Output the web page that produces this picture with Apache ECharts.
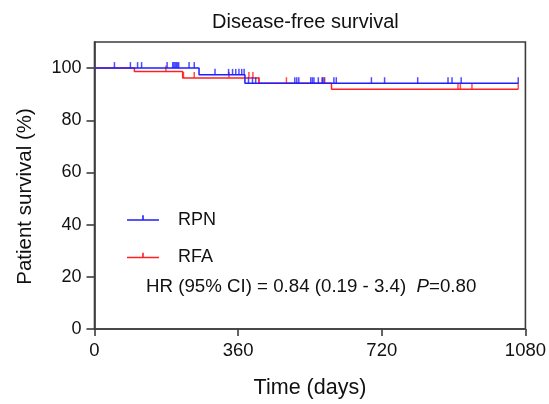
<!DOCTYPE html>
<html><head><meta charset="utf-8">
<script src="https://cdn.jsdelivr.net/npm/echarts@6/dist/echarts.min.js"></script>
<style>html,body{margin:0;padding:0;background:#fff}#c{width:549px;height:404px}</style>
</head><body><div id="c"></div>
<script>
// ---- data ----
const xTicks = [0, 360, 720, 1080];
const yTicks = [0, 20, 40, 60, 80, 100];
// Kaplan-Meier steps: time (days) and survival (%) from that time on
const rpnTimes = [0, 262, 377, 1062];
const rpnSurv  = [100, 97.4, 94.2, 94.2];
const rpnCensor = [50, 90, 108, 118, 182, 196, 199, 202, 205, 208, 211, 237, 250,
  302, 336, 346, 354, 362, 369, 375,
  386, 396, 404, 502, 507, 512, 542, 546, 550, 561, 571, 575, 600, 606, 694, 727,
  810, 886, 896, 919, 1062];
const rfaTimes = [0, 100, 221, 412, 594, 1062];
const rfaSurv  = [100, 98.7, 96.2, 94.2, 91.9, 91.9];
const rfaCensor = [179, 223, 250, 337, 387, 397, 412, 481, 571, 577, 911, 917, 946, 1062];
const seriesNames = ['RPN', 'RFA'];
const titleText = 'Disease-free survival';
const xName = 'Time (days)';
const yName = 'Patient survival (%)';
const statsText = 'HR (95% CI) = 0.84 (0.19 - 3.4)  {i|P}=0.80';

// ---- helpers ----
function stepData(times, surv) { return times.map((t, i) => [t, surv[i]]); }
function survAt(times, surv, t) {
  let v = surv[0];
  for (let i = 0; i < times.length; i++) if (times[i] <= t) v = surv[i];
  return v;
}
function censorData(c, times, surv) { return c.map(t => [t, survAt(times, surv, t)]); }

const BLUE = '#1f1fff', RED = '#ff2020', AX = '#3c3c3c';
const FONT = 'Liberation Sans, Arial, sans-serif';
const legendIcon = 'path://M0,6h32v1.6h-32z M15.2,2h1.6v4h-1.6z M45.99,11.5h0.01v0.01z';

const chart = echarts.init(document.getElementById('c'), null, {renderer: 'canvas'});
chart.setOption({
  animation: false,
  backgroundColor: '#fff',
  title: {
    text: titleText, left: 212, top: 12, padding: 0,
    textStyle: {fontFamily: FONT, fontSize: 20, fontWeight: 'normal', color: '#111'}
  },
  grid: {left: 94.5, right: 23, top: 42, bottom: 75, show: true, borderColor: AX, borderWidth: 1.6, backgroundColor: 'transparent'},
  legend: {
    orient: 'vertical', left: 127, top: 211, itemGap: 19.5, padding: 0,
    itemWidth: 46, itemHeight: 9.5,
    data: seriesNames.map(n => ({name: n, icon: legendIcon})),
    textStyle: {fontFamily: FONT, fontSize: 18, color: '#111'}
  },
  xAxis: {
    type: 'value', min: 0, max: 1080, interval: 360,
    name: xName, nameLocation: 'middle', nameGap: 48,
    nameTextStyle: {fontFamily: FONT, fontSize: 21.5, color: '#111'},
    axisLine: {show: true, lineStyle: {color: AX, width: 1.6}},
    axisTick: {show: true, length: 7, lineStyle: {color: AX, width: 1.6}, customValues: xTicks},
    axisLabel: {fontFamily: FONT, fontSize: 18.5, color: '#111', margin: 12, customValues: xTicks,
      formatter: v => String(v)},
    splitLine: {show: false}
  },
  yAxis: {
    type: 'value', min: 0, max: 110, interval: 20,
    name: yName, nameLocation: 'middle', nameGap: 59, nameRotate: 90,
    nameTextStyle: {fontFamily: FONT, fontSize: 20.5, color: '#111', padding: [0, 22, 0, 0]},
    axisLine: {show: true, lineStyle: {color: AX, width: 1.6}},
    axisTick: {show: true, length: 8, lineStyle: {color: AX, width: 1.6}, customValues: yTicks},
    axisLabel: {fontFamily: FONT, fontSize: 18, color: '#111', margin: 13, customValues: yTicks,
      formatter: v => String(v)},
    splitLine: {show: false}
  },
  graphic: [{
    type: 'text', left: 146, top: 277,
    style: {text: statsText, fontFamily: FONT, fontSize: 18.7, fill: '#111',
      rich: {i: {fontStyle: 'italic', fontFamily: FONT, fontSize: 18.7, fill: '#111'}}}
  }],
  series: [
    {name: 'RFA', type: 'line', step: 'end', showSymbol: false, z: 2,
     data: stepData(rfaTimes, rfaSurv), lineStyle: {color: RED, width: 1.5}, itemStyle: {color: RED}},
    {name: 'RFA', type: 'scatter', symbol: 'rect', symbolSize: [1.5, 6], symbolOffset: [0, -3], z: 2,
     data: censorData(rfaCensor, rfaTimes, rfaSurv), itemStyle: {color: RED}},
    {name: 'RPN', type: 'line', step: 'end', showSymbol: false, z: 3,
     data: stepData(rpnTimes, rpnSurv), lineStyle: {color: BLUE, width: 1.5}, itemStyle: {color: BLUE}},
    {name: 'RPN', type: 'scatter', symbol: 'rect', symbolSize: [1.5, 6], symbolOffset: [0, -3], z: 3,
     data: censorData(rpnCensor, rpnTimes, rpnSurv), itemStyle: {color: BLUE}}
  ]
});
</script></body></html>
